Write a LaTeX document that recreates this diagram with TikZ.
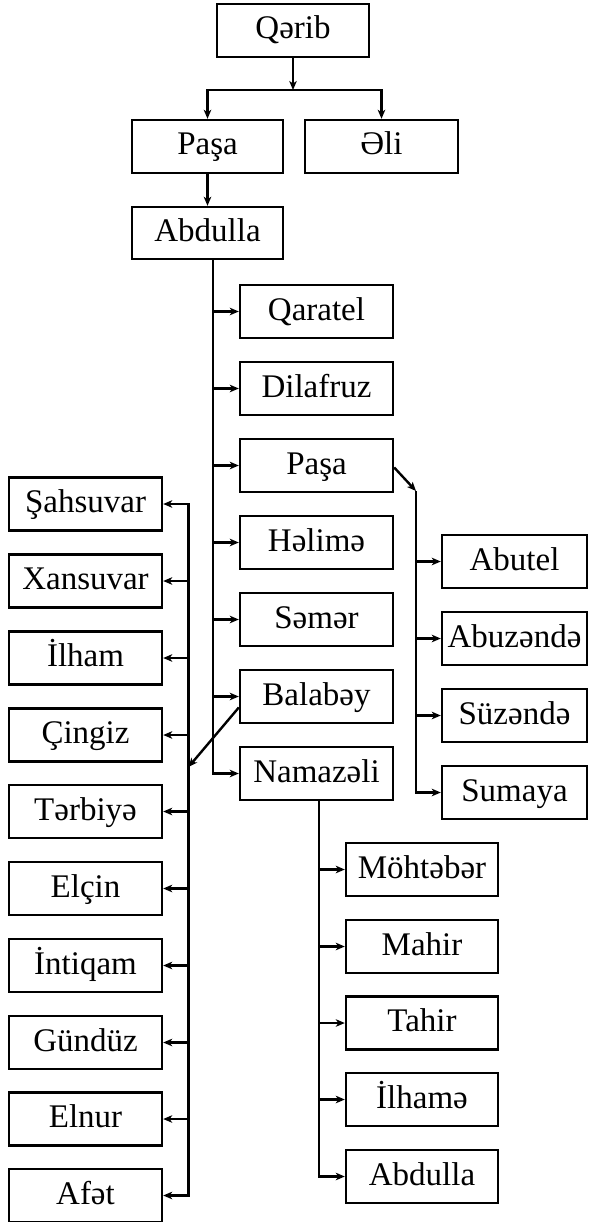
\documentclass[tikz,border=0pt]{standalone}
\usepackage{fontspec}
\setmainfont{Liberation Serif}
\usetikzlibrary{arrows.meta}
\begin{document}
\begin{tikzpicture}[x=1pt,y=-1pt,
  box/.style={draw,line width=2.4pt,minimum height=53pt,inner sep=0pt,text height=24pt,text depth=7pt,font=\fontsize{33}{36}\selectfont},
  wmid/.style={box,minimum width=153pt},
  wright/.style={box,minimum width=145pt},
  wleft/.style={box,minimum width=153pt},
  wbot/.style={box,minimum width=152pt},
  link/.style={line width=2.4pt},
  arr/.style={link,-{Stealth[length=9pt,width=7.5pt,inset=2.5pt]}}]
\path[use as bounding box] (0,0) rectangle (589,1222);
% top
\node[box,minimum width=152pt] (qarib) at (293,30.5) {Qərib};
\node[box,minimum width=151pt] (pasa1) at (207.5,146.5) {Paşa};
\node[box,minimum width=153pt] (eli) at (381.5,146.5) {Əli};
\node[box,minimum width=151pt,minimum height=52pt] (abd1) at (207.5,233) {Abdulla};
% middle column
\node[wmid] (qaratel) at (316.5,311.5) {Qaratel};
\node[wmid] (dilafruz) at (316.5,388.5) {Dilafruz};
\node[wmid] (pasa2) at (316.5,465.5) {Paşa};
\node[wmid] (halima) at (316.5,542.5) {Həlimə};
\node[wmid] (samar) at (316.5,619.5) {Səmər};
\node[wmid] (balabay) at (316.5,696.5) {Balabəy};
\node[wmid] (namazali) at (316.5,773.5) {Namazəli};
% right column
\node[wright] (abutel) at (514.5,561.5) {Abutel};
\node[wright] (abuzanda) at (514.5,638.5) {Abuzəndə};
\node[wright] (suzanda) at (514.5,715.5) {Süzəndə};
\node[wright] (sumaya) at (514.5,792.5) {Sumaya};
% left column
\node[wleft] (sahsuvar) at (85.5,504) {Şahsuvar};
\node[wleft] (xansuvar) at (85.5,581) {Xansuvar};
\node[wleft] (ilham) at (85.5,658) {İlham};
\node[wleft] (cingiz) at (85.5,735) {Çingiz};
\node[wleft] (tarbiya) at (85.5,811.5) {Tərbiyə};
\node[wleft] (elcin) at (85.5,888.5) {Elçin};
\node[wleft] (intiqam) at (85.5,965.5) {İntiqam};
\node[wleft] (gunduz) at (85.5,1042.5) {Gündüz};
\node[wleft] (elnur) at (85.5,1119) {Elnur};
\node[wleft] (afat) at (85.5,1195.5) {Afət};
% bottom column
\node[wbot] (mohtabar) at (422,869.5) {Möhtəbər};
\node[wbot] (mahir) at (422,946.5) {Mahir};
\node[wbot] (tahir) at (422,1023) {Tahir};
\node[wbot] (ilhama) at (422,1099.5) {İlhamə};
\node[wbot] (abd2) at (422,1176.5) {Abdulla};
% junctions
\coordinate (j1) at (293,90);
\coordinate (t0) at (213,259);
\coordinate (p0) at (416,491);
\coordinate (b0) at (188.5,767);
\coordinate (n0) at (319,800);
% top connectors
\draw[arr] (qarib.south) -- (j1);
\draw[arr] (j1) -| (pasa1.north);
\draw[arr] (j1) -| (eli.north);
\draw[arr] (pasa1.south) -- (abd1.north);
% Abdulla trunk
\foreach \n in {qaratel,dilafruz,pasa2,halima,samar,balabay,namazali}
  \draw[arr] (t0) |- (\n.west);
% Pasa branch
\draw[arr] ([yshift=-2pt]pasa2.east) -- (p0);
\foreach \n in {abutel,abuzanda,suzanda,sumaya}
  \draw[arr] (p0) |- (\n.west);
% Balabay branch
\draw[arr] ([yshift=-11pt]balabay.west) -- (b0);
\foreach \n in {sahsuvar,xansuvar,ilham,cingiz,tarbiya,elcin,intiqam,gunduz,elnur,afat}
  \draw[arr] (b0) |- (\n.east);
% Namazali trunk
\foreach \n in {mohtabar,mahir,tahir,ilhama,abd2}
  \draw[arr] (n0) |- (\n.west);
\end{tikzpicture}
\end{document}
